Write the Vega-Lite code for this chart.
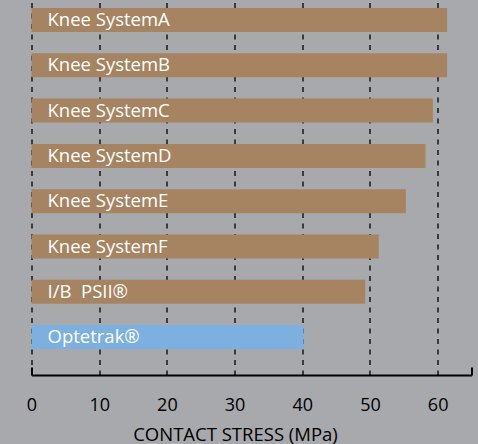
{
  "$schema": "https://vega.github.io/schema/vega-lite/v6.json",
  "width": 440,
  "height": 375,
  "autosize": {"type": "none"},
  "padding": {"left": 31.5, "top": 0, "right": 6.5, "bottom": 69},
  "background": "#a7a9ac",
  "config": {"view": {"stroke": null}, "font": "Open Sans"},
  "data": {
    "values": [
      {"system": "Knee SystemA", "stress": 61.4, "group": "other"},
      {"system": "Knee SystemB", "stress": 61.4, "group": "other"},
      {"system": "Knee SystemC", "stress": 59.3, "group": "other"},
      {"system": "Knee SystemD", "stress": 58.2, "group": "other"},
      {"system": "Knee SystemE", "stress": 55.3, "group": "other"},
      {"system": "Knee SystemF", "stress": 51.3, "group": "other"},
      {"system": "I/B\u00a0 PSII®", "stress": 49.3, "group": "other"},
      {"system": "Optetrak®", "stress": 40.2, "group": "Optetrak"}
    ]
  },
  "encoding": {
    "y": {
      "field": "system",
      "type": "nominal",
      "sort": null,
      "axis": null,
      "scale": {"paddingInner": 0.47, "paddingOuter": 0.374, "align": 0.236}
    }
  },
  "layer": [
    {
      "mark": {"type": "bar"},
      "encoding": {
        "x": {
          "field": "stress",
          "type": "quantitative",
          "scale": {"domain": [0, 65], "nice": false, "zero": true},
          "axis": {
            "values": [0, 10, 20, 30, 40, 50, 60, 65],
            "grid": true,
            "gridColor": {"condition": {"test": "datum.value > 60", "value": "transparent"}, "value": "black"},
            "gridDash": [5, 5.5],
            "gridWidth": 1.3,
            "domainColor": "black",
            "domainWidth": 2,
            "tickColor": {"condition": {"test": "datum.value == 0 || datum.value == 65", "value": "black"}, "value": "transparent"},
            "tickSize": -8,
            "tickWidth": 2,
            "labelExpr": "datum.value > 60 ? '' : datum.label",
            "labelFlush": false,
            "labelFontSize": 18,
            "labelColor": "black",
            "labelPadding": 29,
            "title": "CONTACT STRESS (MPa)",
            "titleFontWeight": "normal",
            "titleFontSize": 18.5,
            "titleColor": "black",
            "titleX": 203.5,
            "titleY": 65,
            "titleBaseline": "alphabetic",
            "titleAlign": "center"
          }
        },
        "color": {
          "field": "group",
          "type": "nominal",
          "scale": {"domain": ["other", "Optetrak"], "range": ["#a68462", "#7cb0e0"]},
          "legend": null
        }
      }
    },
    {
      "mark": {"type": "text", "align": "left", "dx": 16, "color": "white", "fontSize": 18.5},
      "encoding": {
        "x": {"datum": 0, "type": "quantitative"},
        "text": {"field": "system"}
      }
    }
  ]
}
